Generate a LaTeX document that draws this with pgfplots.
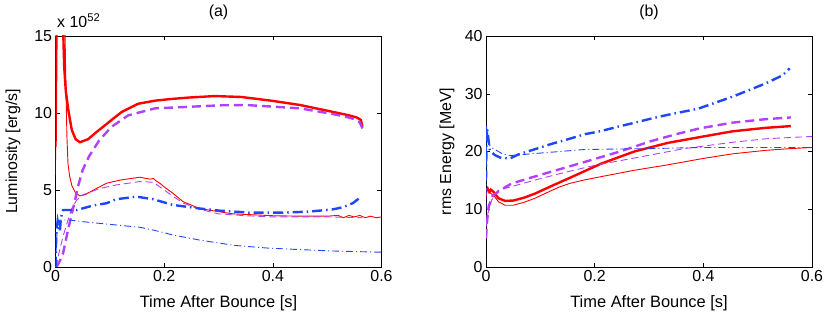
\documentclass[border=0pt]{standalone}
\usepackage{fontspec}
\setmainfont{Liberation Sans}
\usepackage{pgfplots}
\pgfplotsset{compat=1.18}
\definecolor{cred}{RGB}{255,0,0}
\definecolor{cpur}{RGB}{178,64,255}
\definecolor{cblu}{RGB}{30,70,255}
\pgfplotsset{
  common/.style={
    scale only axis, width=326bp, height=231bp,
    xmin=0, xmax=0.6, xtick={0,0.2,0.4,0.6},
    xticklabels={0,0.2,0.4,0.6},
    tick align=inside, major tick length=4bp,
    every tick/.style={black, line width=0.5bp},
    axis line style={line width=0.6bp},
    font=\fontsize{16}{19}\selectfont,
    ticklabel style={font=\fontsize{16}{19}\selectfont},
    /pgf/number format/assume math mode=true,
    xlabel={Time After Bounce [s]},
    x label style={at={(axis description cs:0.5,-0.155)}, anchor=center, font=\fontsize{16.5}{19}\selectfont},
    title style={at={(axis description cs:0.5,1.078)}, anchor=center},
    clip=true,
  },
  thr/.style={cred, line width=2.4bp, solid},
  tnr/.style={cred, line width=0.9bp, solid},
  thp/.style={cpur, line width=2.4bp, dash pattern=on 9bp off 5bp},
  tnp/.style={cpur, line width=0.9bp, dash pattern=on 7bp off 4bp},
  thb/.style={cblu, line width=2.4bp, dash pattern=on 10bp off 4bp on 1.5bp off 4bp},
  tnb/.style={cblu, line width=0.9bp, dash pattern=on 7bp off 3bp on 1bp off 3bp},
}
\begin{document}
\begin{tikzpicture}
\useasboundingbox (0,0) rectangle (830bp,314bp);
% ---------------- (a) ----------------
\begin{axis}[common, name=pa, at={(55.5bp,47bp)}, anchor=south west,
  ymin=0, ymax=15, ytick={0,5,10,15}, yticklabels={0,5,10,15},
  ylabel={Luminosity [erg/s]},
  y label style={at={(axis description cs:-0.13,0.5)}, anchor=center},
  title={(a)}]
\addplot[thr] coordinates {(0,7.8)(0.001,12)(0.002,16.5)(0.012,16.5)(0.014,15.5)(0.016,13)(0.019,11.4)(0.024,10.1)(0.03,8.9)(0.037,8.3)(0.045,8.1)(0.06,8.3)(0.075,8.75)(0.091,9.2)(0.105,9.6)(0.122,10.07)(0.152,10.6)(0.183,10.8)(0.21,10.9)(0.244,11.0)(0.293,11.1)(0.342,11.04)(0.397,10.8)(0.45,10.52)(0.5,10.15)(0.54,9.85)(0.555,9.7)(0.562,9.55)(0.565,9.1)};
\addplot[tnr] coordinates {(0,6)(0.001,16.5)(0.017,16.5)(0.019,12)(0.021,8.5)(0.023,6.7)(0.026,5.9)(0.03,5.3)(0.037,4.8)(0.045,4.62)(0.055,4.7)(0.07,5.0)(0.094,5.44)(0.12,5.65)(0.155,5.83)(0.175,5.7)(0.18,5.75)(0.185,5.6)(0.192,5.44)(0.2,5.2)(0.216,4.79)(0.235,4.24)(0.265,3.8)(0.308,3.55)(0.327,3.45)(0.37,3.38)(0.4,3.33)(0.45,3.3)(0.5,3.3)(0.52,3.35)(0.53,3.2)(0.54,3.35)(0.55,3.25)(0.56,3.35)(0.57,3.2)(0.58,3.3)(0.59,3.2)(0.6,3.25)};
\addplot[thp] coordinates {(0.002,0)(0.008,0.4)(0.014,0.9)(0.023,2.4)(0.033,3.9)(0.042,5.3)(0.05,6.3)(0.062,7.2)(0.08,8.2)(0.103,9.1)(0.134,9.85)(0.183,10.3)(0.244,10.4)(0.305,10.5)(0.35,10.52)(0.397,10.42)(0.45,10.3)(0.5,10.0)(0.53,9.8)(0.55,9.6)(0.56,9.4)(0.565,9.0)};
\addplot[tnp] coordinates {(0.001,0)(0.007,1.0)(0.014,2.0)(0.023,3.05)(0.03,3.8)(0.039,4.35)(0.051,4.7)(0.082,5.1)(0.112,5.33)(0.155,5.55)(0.18,5.5)(0.2,5.0)(0.216,4.6)(0.235,4.15)(0.265,3.75)(0.3,3.45)(0.35,3.33)(0.4,3.25)(0.5,3.25)(0.565,3.2)};
\addplot[thb] coordinates {(0,0)(0.001,1.5)(0.002,2.4)(0.004,3.0)(0.008,2.3)(0.01,3.2)(0.014,3.7)(0.039,3.7)(0.07,4.0)(0.094,4.14)(0.112,4.4)(0.149,4.57)(0.18,4.4)(0.216,4.03)(0.265,3.8)(0.302,3.66)(0.357,3.53)(0.419,3.53)(0.468,3.6)(0.51,3.74)(0.529,3.88)(0.547,4.14)(0.559,4.46)(0.563,4.6)};
\addplot[tnb] coordinates {(0,0)(0.003,2.5)(0.008,3.05)(0.027,3.05)(0.051,2.94)(0.094,2.79)(0.155,2.58)(0.18,2.4)(0.216,2.08)(0.265,1.75)(0.33,1.4)(0.39,1.23)(0.45,1.13)(0.51,1.04)(0.6,0.96)};
\end{axis}
\node[anchor=base west, inner sep=0pt, font=\fontsize{16}{19}\selectfont] at ([xshift=1.5bp,yshift=8bp]pa.north west) {x 10\textsuperscript{52}};
% ---------------- (b) ----------------
\begin{axis}[common, at={(486bp,47bp)}, anchor=south west,
  ymin=0, ymax=40, ytick={0,10,20,30,40}, yticklabels={0,10,20,30,40},
  ylabel={rms Energy [MeV]},
  y label style={at={(axis description cs:-0.12,0.5)}, anchor=center},
  title={(b)}]
\addplot[thr] coordinates {(0,13.3)(0.003,13.6)(0.006,13.0)(0.009,13.4)(0.014,13.0)(0.023,11.9)(0.035,11.45)(0.05,11.5)(0.07,12.0)(0.09,12.7)(0.12,14.0)(0.151,15.3)(0.212,17.9)(0.273,20.0)(0.335,21.5)(0.4,22.6)(0.454,23.5)(0.515,24.1)(0.561,24.4)};
\addplot[tnr] coordinates {(0,12)(0.003,13.8)(0.008,12.8)(0.014,12.4)(0.023,11.3)(0.035,10.7)(0.05,10.7)(0.07,11.2)(0.09,11.9)(0.115,13.0)(0.135,13.85)(0.155,14.5)(0.18,15.05)(0.212,15.65)(0.273,16.75)(0.335,17.7)(0.4,18.8)(0.454,19.6)(0.515,20.2)(0.56,20.5)(0.6,20.7)};
\addplot[thp] coordinates {(0,5)(0.002,8)(0.005,10.5)(0.012,12.3)(0.026,13.3)(0.047,14.45)(0.08,15.4)(0.12,16.5)(0.182,18.2)(0.243,19.9)(0.304,21.8)(0.35,23.0)(0.393,24.0)(0.454,25.0)(0.515,25.6)(0.561,25.9)};
\addplot[tnp] coordinates {(0,7)(0.004,9.5)(0.01,11.5)(0.016,12.6)(0.023,13.3)(0.05,14.0)(0.1,15.3)(0.15,16.5)(0.2,17.6)(0.286,19.1)(0.365,20.5)(0.454,21.6)(0.515,22.2)(0.576,22.5)(0.6,22.6)};
\addplot[thb] coordinates {(0,15)(0.001,22)(0.002,24)(0.004,22.5)(0.007,20.2)(0.016,19.4)(0.026,18.95)(0.044,18.8)(0.06,19.5)(0.09,20.4)(0.12,21.3)(0.15,22.1)(0.182,23.0)(0.21,23.5)(0.243,24.3)(0.27,24.9)(0.304,25.7)(0.332,26.3)(0.39,27.4)(0.454,29.5)(0.515,31.8)(0.546,33.2)(0.559,34.4)};
\addplot[tnb] coordinates {(0,10)(0.001,24.5)(0.003,22)(0.005,21.2)(0.012,20.6)(0.03,19.6)(0.045,19.3)(0.09,19.65)(0.182,20.35)(0.3,20.5)(0.4,20.7)(0.6,20.7)};
\end{axis}
\end{tikzpicture}
\end{document}
